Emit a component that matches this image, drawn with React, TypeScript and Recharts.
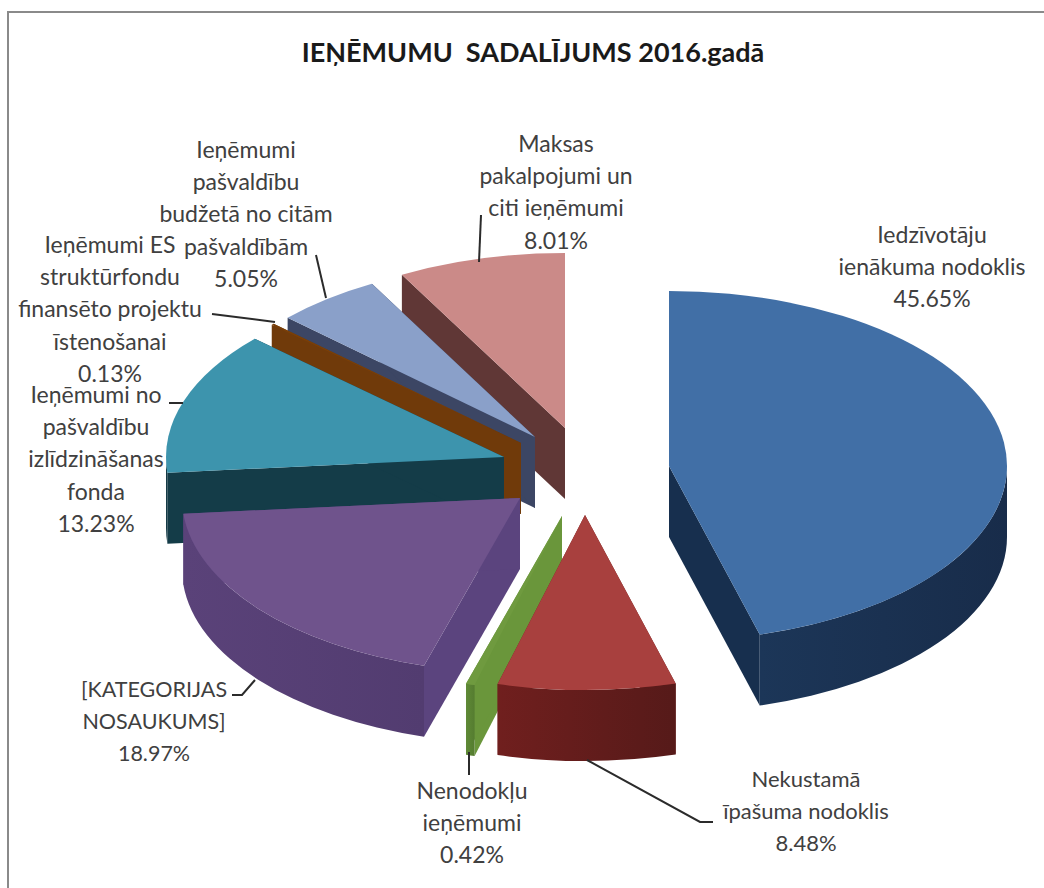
import { PieChart, Pie } from "recharts";

// Listed in painting order (back slices first), walking the pie anticlockwise from 12 o'clock.
const names = [
  "Maksas pakalpojumi un citi ieņēmumi",
  "Ieņēmumi pašvaldību budžetā no citām pašvaldībām",
  "Ieņēmumi ES struktūrfondu finansēto projektu īstenošanai",
  "Ieņēmumi no pašvaldību izlīdzināšanas fonda",
  "[KATEGORIJAS NOSAUKUMS]",
  "Nenodokļu ieņēmumi",
  "Nekustamā īpašuma nodoklis",
  "Iedzīvotāju ienākuma nodoklis",
];
const values = [8.01, 5.05, 0.13, 13.23, 18.97, 0.42, 8.48, 45.65];

const labelLines = [
  ["Maksas", "pakalpojumi un", "citi ieņēmumi"],
  ["Ieņēmumi", "pašvaldību", "budžetā no citām", "pašvaldībām"],
  ["Ieņēmumi ES", "struktūrfondu", "finansēto projektu", "īstenošanai"],
  ["Ieņēmumi no", "pašvaldību", "izlīdzināšanas", "fonda"],
  ["[KATEGORIJAS", "NOSAUKUMS]"],
  ["Nenodokļu", "ieņēmumi"],
  ["Nekustamā", "īpašuma nodoklis"],
  ["Iedzīvotāju", "ienākuma nodoklis"],
];

const topColors = ["#cb8a88", "#8aa0c9", "#7a3f08", "#3d94ad", "#6f538c", "#6f9a3f", "#a8403e", "#416fa6"];
const wallColors = ["#6a3b3a", "#3f4a69", "#6e390a", "#163f4b", "#5a4279", "#5f8a36", "#701f1e", "#1c3658"];
const wallDark = ["#5a3231", "#363f5a", "#5e3008", "#12343f", "#523c70", "#557c30", "#561a19", "#182c4a"];
const cutColors = ["#603736", "#3c4664", "#703a0a", "#143c48", "#5b447e", "#6a963b", "#701f1e", "#172f4e"];

// pie layout: flattened ellipse, extrusion depth, and how far each slice is pulled out
const CX = 575;
const CY = 460;
const RX = 338;
const RY = 175;
const DEPTH = 71;
const offsets = [
  [-10, -32],
  [-40, -23],
  [-54, -17],
  [-71, -3],
  [-55, 38],
  [-13, 56],
  [10, 55],
  [94, 6],
];

// label centre x, first baseline, font size, and leader line
const labelSpots: { x: number; y: number; size: number; leader?: number[][] }[] = [
  { x: 556, y: 152, size: 23, leader: [[479, 262], [481, 215]] },
  { x: 246, y: 158, size: 23, leader: [[326, 298], [316, 255]] },
  { x: 110, y: 253, size: 23, leader: [[275, 322], [212, 314]] },
  { x: 96, y: 403, size: 23, leader: [[183, 403], [169, 403]] },
  { x: 154, y: 697, size: 21.5, leader: [[255, 680], [242, 695], [232, 695]] },
  { x: 472, y: 799, size: 23, leader: [[469, 752], [469, 775]] },
  { x: 806, y: 787, size: 22, leader: [[587, 760], [700, 822], [713, 822]] },
  { x: 932, y: 243, size: 23 },
];
const LINE_H = 32.2;

const rows = names.map((name, i) => ({ name, value: values[i] }));

const pt = (cx: number, cy: number, deg: number) => {
  const a = (deg * Math.PI) / 180;
  return [cx + RX * Math.cos(a), cy - RY * Math.sin(a)];
};

// flat 3D wedge: recharts hands over the angles, this projects them on the ellipse
function Wedge(props: any) {
  const i = names.indexOf(props.name);
  const cx = CX + offsets[i][0];
  const cy = CY + offsets[i][1];
  const a0 = props.startAngle;
  const a1 = props.endAngle;
  const [x0, y0] = pt(cx, cy, a0);
  const [x1, y1] = pt(cx, cy, a1);
  const top = `M${cx},${cy}L${x0},${y0}A${RX},${RY} 0 ${a1 - a0 > 180 ? 1 : 0} 0 ${x1},${y1}Z`;
  const cut = (x: number, y: number) =>
    `M${cx},${cy}L${x},${y}L${x},${y + DEPTH}L${cx},${cy + DEPTH}Z`;
  const w0 = Math.max(a0, 180);
  const w1 = Math.min(a1, 360);
  let wall = null;
  if (w1 > w0) {
    const [wx0, wy0] = pt(cx, cy, w0);
    const [wx1, wy1] = pt(cx, cy, w1);
    wall = (
      <path
        d={`M${wx0},${wy0}A${RX},${RY} 0 0 0 ${wx1},${wy1}L${wx1},${wy1 + DEPTH}A${RX},${RY} 0 0 1 ${wx0},${wy0 + DEPTH}Z`}
        fill={`url(#wall-${i})`}
      />
    );
  }
  return (
    <g>
      <defs>
        <linearGradient id={`wall-${i}`} x1="0" y1="0" x2="1" y2="0">
          <stop offset="0%" stopColor={wallColors[i]} />
          <stop offset="100%" stopColor={wallDark[i]} />
        </linearGradient>
      </defs>
      <path d={cut(x1, y1)} fill={cutColors[i]} />
      <path d={cut(x0, y0)} fill={cutColors[i]} />
      {wall}
      <path d={top} fill={topColors[i]} />
    </g>
  );
}

function SliceLabel(props: any) {
  const i = names.indexOf(props.name);
  const spot = labelSpots[i];
  const lines = [...labelLines[i], `${values[i].toFixed(2)}%`];
  return (
    <g>
      {spot.leader && (
        <polyline
          points={spot.leader.map((p) => p.join(",")).join(" ")}
          fill="none"
          stroke="#2b2b2b"
          strokeWidth={2}
        />
      )}
      <text textAnchor="middle" fontFamily="Lato" fontSize={spot.size} fill="#404040">
        {lines.map((line, k) => (
          <tspan key={k} x={spot.x} y={spot.y + k * LINE_H}>
            {line}
          </tspan>
        ))}
      </text>
    </g>
  );
}

export default function App() {
  return (
    <div style={{ position: "absolute", left: 0, top: 0, width: 1044, height: 888, overflow: "hidden", background: "#fff" }}>
      <div
        style={{
          position: "absolute",
          left: 7,
          top: 11,
          width: 1044,
          height: 888,
          borderLeft: "2px solid #8a8a8a",
          borderTop: "2px solid #8a8a8a",
        }}
      />
      <PieChart width={1044} height={888} style={{ position: "absolute", left: 0, top: 0 }}>
        <text x={533} y={62} textAnchor="middle" fontFamily="Lato" fontWeight={700} fontSize={27} fill="#1a1a1a">
          IEŅĒMUMU{"\u00a0\u00a0"}SADALĪJUMS 2016.gadā
        </text>
        <Pie
          data={rows}
          dataKey="value"
          nameKey="name"
          cx={CX}
          cy={CY}
          outerRadius={RX}
          startAngle={90}
          endAngle={450}
          stroke="none"
          shape={Wedge}
          label={SliceLabel}
          labelLine={false}
          isAnimationActive={false}
        />
      </PieChart>
    </div>
  );
}
